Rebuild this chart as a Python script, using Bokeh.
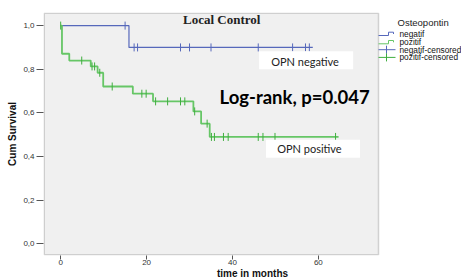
import numpy as np
from bokeh.plotting import figure
from bokeh.models import (Label, BoxAnnotation, FixedTicker, CustomJSTickFormatter)
from bokeh.core.properties import value
from bokeh.embed import file_html
from bokeh.resources import INLINE

# ---- data ----
neg_step_t = [0.0, 15.9, 58.7]
neg_step_s = [1.0, 0.90, 0.90]
neg_cens_t = [15.0, 17.1, 17.9, 27.9, 30.0, 35.0, 46.0, 54.0, 57.0, 57.9]
neg_cens_s = [1.0, 0.90, 0.90, 0.90, 0.90, 0.90, 0.90, 0.90, 0.90, 0.90]

pos_step_t = [0.0, 0.3, 2.0, 7.0, 8.6, 9.9, 16.8, 21.5, 30.9, 32.7, 34.7, 64.7]
pos_step_s = [1.0, 0.871, 0.840, 0.813, 0.784, 0.721, 0.688, 0.653, 0.607, 0.551, 0.490, 0.490]
pos_cens_t = [0.0, 4.9, 7.3, 7.9, 9.1, 12.0, 18.9, 19.9, 22.1, 24.9, 27.9, 28.9,
              31.2, 34.1, 35.1, 35.8, 37.9, 39.0, 46.0, 47.1, 49.9, 64.0]
pos_cens_s = [1.0, 0.840, 0.813, 0.813, 0.784, 0.721, 0.688, 0.688, 0.653, 0.653, 0.653, 0.653,
              0.607, 0.551, 0.490, 0.490, 0.490, 0.490, 0.490, 0.490, 0.490, 0.490]

x_ticks = [0, 20, 40, 60]
y_ticks = [0.0, 0.2, 0.4, 0.6, 0.8, 1.0]

legend_title = "Osteopontin"
legend_labels = ["negatif", "pozitif", "negatif-censored", "pozitif-censored"]

BLUE = "#5668bb"
GREEN = "#66c666"
GREEN_TICK = "#3fae3f"
legend_colors = [BLUE, GREEN, BLUE, GREEN_TICK]
legend_censored = [False, False, True, True]

# ---- geometry ----
X0, X1 = -4.0, 74.0          # visible plot-area x extent
Y0, Y1 = -0.053, 1.06        # plot-area y extent
PLOT_W = 335                 # plot-area width in px
FRAME_W = 418                # frame extends to the right to hold the legend
SX = PLOT_W / (X1 - X0)
XR = X0 + FRAME_W / SX
FRAME_H = 243
SY = FRAME_H / (Y1 - Y0)
LEFT_PX, TOP_PX = 47, 12     # page position of plot-area corner


def px_x(px):
    return X0 + (px - LEFT_PX) / SX


def px_y(py):
    return Y1 - (py - TOP_PX) / SY


p = figure(frame_width=FRAME_W, frame_height=FRAME_H, output_backend="svg",
           toolbar_location=None, x_range=(X0, XR), y_range=(Y0, Y1),
           min_border_left=43, min_border_top=12, min_border_right=0, min_border_bottom=20)

p.background_fill_color = "white"
p.border_fill_color = "white"
p.outline_line_color = None
p.xgrid.visible = False
p.ygrid.visible = False

# grey plot area with its border
p.add_layout(BoxAnnotation(left=X0 + 0.17, right=X1, bottom=Y0 + 0.003, top=Y1 - 0.003,
                           fill_color="#f0f0f0", fill_alpha=1, line_color="#7a7a7a",
                           line_width=1.5, level="underlay"))

for ax in (p.xaxis[0], p.yaxis[0]):
    ax.axis_line_color = None
    ax.major_tick_line_color = "#555555"
    ax.minor_tick_line_color = None
    ax.major_tick_in = 0
    ax.major_label_text_font = "Liberation Sans"
    ax.major_label_text_font_size = "8px"
    ax.major_label_text_color = "#333333"
    ax.axis_label_text_font = "Liberation Sans"
    ax.axis_label_text_font_size = "10px"
    ax.axis_label_text_font_style = "bold"
    ax.axis_label_text_color = "#111111"

p.xaxis.ticker = FixedTicker(ticks=x_ticks)
p.yaxis.ticker = FixedTicker(ticks=y_ticks)
p.yaxis.formatter = CustomJSTickFormatter(code="return tick.toFixed(1).replace('.', ',');")
p.yaxis.major_tick_out = 7
p.yaxis.major_label_standoff = 2
p.yaxis.axis_label_standoff = 2
p.xaxis.major_tick_out = 4
p.xaxis.major_label_standoff = 0
p.xaxis.axis_label_standoff = 0
p.yaxis.axis_label = "Cum Survival"
p.xaxis.axis_label = "time in months"

p.step(neg_step_t, neg_step_s, mode="after", line_color=BLUE, line_width=1.2)
p.step(pos_step_t, pos_step_s, mode="after", line_color=GREEN, line_width=1.8)
p.scatter(neg_cens_t, neg_cens_s, marker="dash", angle=np.pi / 2, size=8,
          line_color=BLUE, line_width=1)
p.scatter(pos_cens_t, pos_cens_s, marker="dash", angle=np.pi / 2, size=8,
          line_color=GREEN_TICK, line_width=1)

# annotation boxes and texts
p.add_layout(BoxAnnotation(left=46.2, right=68.1, bottom=0.800, top=0.883,
                           fill_color="white", fill_alpha=1, line_alpha=0))
p.add_layout(BoxAnnotation(left=47.8, right=69.7, bottom=0.395, top=0.477,
                           fill_color="white", fill_alpha=1, line_alpha=0))
p.add_layout(Label(x=49.0, y=0.837, text="OPN negative", text_font="Lato",
                   text_font_size="11px", text_baseline="middle", text_color="#222222"))
p.add_layout(Label(x=50.4, y=0.435, text="OPN positive", text_font="Lato",
                   text_font_size="11px", text_baseline="middle", text_color="#222222"))
p.add_layout(Label(x=37.0, y=0.672, text="Log-rank, p=0.047", text_font="Lato",
                   text_font_size="18.5px", text_font_style="bold", text_baseline="middle",
                   text_color="#000000"))
p.add_layout(Label(x=37.5, y=1.029, text="Local Control", text_font="Liberation Serif",
                   text_font_size="13px", text_font_style="bold", text_baseline="middle",
                   text_align="center", text_color="#222222"))

# ---- legend at the right, outside the grey plot area ----
p.text(x=[px_x(401)], y=[px_y(21.7)], text=[legend_title], text_font=value("Liberation Sans"),
       text_font_size="9.5px", text_baseline="middle", text_color="#222222")
label_py = [33.3, 41.6, 49.2, 56.9]
p.text(x=[px_x(403)] * 4, y=[px_y(v) for v in label_py], text=legend_labels,
       text_font=value("Liberation Sans"), text_font_size="8.3px", text_baseline="middle",
       text_color="#111111")
for yc, col, cens in zip(label_py, legend_colors, legend_censored):
    if cens:
        p.line([px_x(382), px_x(399)], [px_y(yc), px_y(yc)], line_color=col, line_width=1)
        p.line([px_x(390), px_x(390)], [px_y(yc - 4), px_y(yc + 4)], line_color=col, line_width=1)
    else:
        xs = [px_x(v) for v in (382, 392, 392, 397, 397)]
        ys = [px_y(yc + d) for d in (1.7, 1.7, -1.6, -1.6, 0.2)]
        p.line(xs, ys, line_color=col, line_width=1)

open("out.html", "w").write(file_html(p, INLINE))
